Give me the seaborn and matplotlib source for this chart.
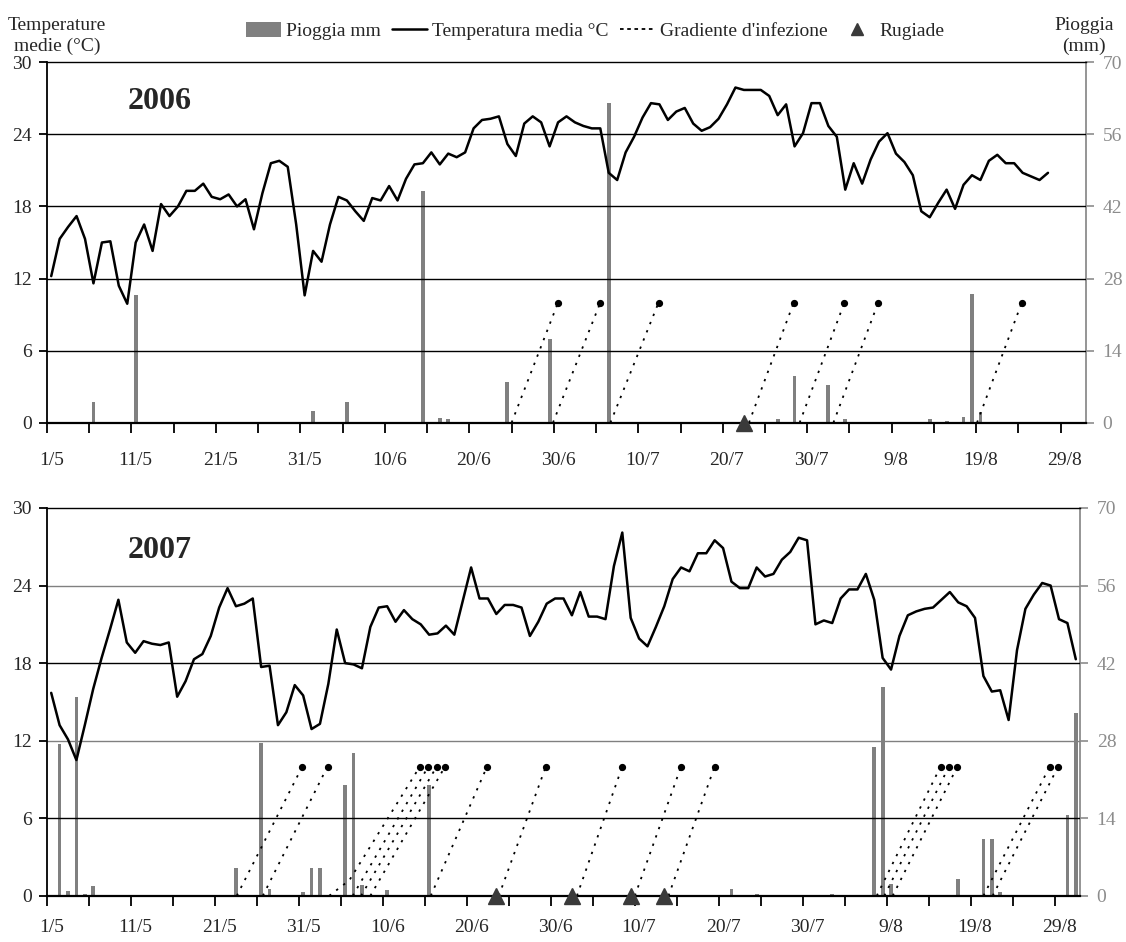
import numpy as np
import pandas as pd
import matplotlib
matplotlib.use('Agg')
import matplotlib.pyplot as plt
import seaborn as sns
from matplotlib.lines import Line2D
from matplotlib.patches import Patch

# day index 0 = 1 May, last day (122) = 31 Aug
n_days = 123
tick_days = list(range(0, 121, 10))
tick_labels = ['1/5', '11/5', '21/5', '31/5', '10/6', '20/6', '30/6',
               '10/7', '20/7', '30/7', '9/8', '19/8', '29/8']

# 2006 - mean temperature (°C), 1/5 .. 27/8
temp_2006 = [12.2, 15.3, 16.3, 17.2, 15.3, 11.6, 15.0, 15.1, 11.4, 9.9,
             15.0, 16.5, 14.3, 18.2, 17.2, 18.0, 19.3, 19.3, 19.9, 18.8,
             18.6, 19.0, 18.0, 18.6, 16.1, 19.1, 21.6, 21.8, 21.3, 16.5,
             10.6, 14.3, 13.4, 16.5, 18.8, 18.5, 17.6, 16.8, 18.7, 18.5,
             19.7, 18.5, 20.3, 21.5, 21.6, 22.5, 21.5, 22.4, 22.1, 22.5,
             24.5, 25.2, 25.3, 25.5, 23.2, 22.2, 24.9, 25.5, 25.0, 23.0,
             25.0, 25.5, 25.0, 24.7, 24.5, 24.5, 20.8, 20.2, 22.5, 23.8,
             25.4, 26.6, 26.5, 25.2, 25.9, 26.2, 24.9, 24.3, 24.6, 25.3,
             26.5, 27.9, 27.7, 27.7, 27.7, 27.2, 25.6, 26.5, 23.0, 24.1,
             26.6, 26.6, 24.7, 23.8, 19.4, 21.6, 19.9, 21.9, 23.4, 24.1,
             22.4, 21.7, 20.6, 17.6, 17.1, 18.3, 19.4, 17.8, 19.8, 20.6,
             20.2, 21.8, 22.3, 21.6, 21.6, 20.8, 20.5, 20.2, 20.8]

# 2006 - rain (day index, mm)
rain_2006_day = [5, 10, 31, 35, 44, 46, 47, 54, 59, 66, 86, 88, 92, 94, 104, 106, 108, 109, 110]
rain_2006_mm = [4.0, 24.9, 2.2, 4.0, 45.0, 1.0, 0.8, 8.0, 16.2, 62.1, 0.8, 9.0, 7.3, 0.8, 0.8, 0.3, 1.2, 25.0, 2.1]

# 2006 - dew days
dew_2006 = [82]

# 2006 - infection gradient lines (day, value) points
grad_2006 = [[(54.5, 0), (60.0, 10)], [(59.4, 0), (65.0, 10)], [(66.2, 0), (71.9, 10)],
             [(82.6, 0), (87.9, 10)], [(88.6, 0), (93.9, 10)], [(92.6, 0), (97.9, 10)],
             [(109.6, 0), (114.9, 10)]]

# 2007 - mean temperature (°C), 1/5 .. 31/8
temp_2007 = [15.7, 13.2, 12.1, 10.5, 13.2, 16.0, 18.4, 20.6, 22.9, 19.6,
             18.8, 19.7, 19.5, 19.4, 19.6, 15.4, 16.6, 18.3, 18.7, 20.1,
             22.3, 23.8, 22.4, 22.6, 23.0, 17.7, 17.8, 13.2, 14.2, 16.3,
             15.5, 12.9, 13.3, 16.4, 20.6, 18.0, 17.9, 17.6, 20.8, 22.3,
             22.4, 21.2, 22.1, 21.4, 21.0, 20.2, 20.3, 20.9, 20.2, 22.8,
             25.4, 23.0, 23.0, 21.8, 22.5, 22.5, 22.3, 20.1, 21.2, 22.6,
             23.0, 23.0, 21.7, 23.5, 21.6, 21.6, 21.4, 25.5, 28.1, 21.5,
             19.9, 19.3, 20.8, 22.4, 24.5, 25.4, 25.1, 26.5, 26.5, 27.5,
             26.9, 24.3, 23.8, 23.8, 25.4, 24.7, 24.9, 26.0, 26.6, 27.7,
             27.5, 21.0, 21.3, 21.1, 23.0, 23.7, 23.7, 24.9, 22.9, 18.4,
             17.5, 20.1, 21.7, 22.0, 22.2, 22.3, 22.9, 23.5, 22.7, 22.4,
             21.5, 17.0, 15.8, 15.9, 13.6, 19.0, 22.2, 23.3, 24.2, 24.0,
             21.4, 21.1, 18.3]

rain_2007_day = [1, 2, 3, 4, 5, 22, 25, 26, 30, 31, 32, 35, 36, 37, 40, 45,
                 81, 84, 93, 98, 99, 100, 108, 111, 112, 113, 121, 122]
rain_2007_mm = [27.4, 0.9, 35.9, 0.3, 1.7, 5.1, 27.6, 1.2, 0.7, 5.1, 5.1, 20.0, 25.8, 1.9, 1.0, 20.0,
                1.3, 0.3, 0.3, 26.8, 37.6, 2.1, 3.0, 10.2, 10.2, 0.7, 14.6, 33.0]

dew_2007 = [53, 62, 69, 73]

grad_2007 = [[(22.1, 0), (29.9, 10)], [(25.2, 0), (32.9, 10)],
             [(33.1, 0), (35.5, 1.2), (43.9, 10)], [(35.9, 0), (44.9, 10)],
             [(36.9, 0), (45.9, 10)], [(38.0, 0), (46.9, 10)],
             [(45.2, 0), (51.9, 10)], [(53.3, 0), (58.9, 10)],
             [(62.6, 0), (68.0, 10)], [(69.5, 0), (75.0, 10)], [(73.5, 0), (79.0, 10)],
             [(98.3, 0), (105.9, 10)], [(99.2, 0), (106.9, 10)], [(100.2, 0), (107.9, 10)],
             [(111.0, 0), (118.9, 10)], [(112.1, 0), (119.9, 10)]]

sns.set_theme(style='white')
plt.rcParams['font.family'] = ['Liberation Serif', 'DejaVu Serif']
plt.rcParams['font.size'] = 14

W, H = 1126, 942
fig = plt.figure(figsize=(W / 100, H / 100), dpi=100)

RAIN_COLOR = '#808080'
AX2_COLOR = '#8c8c8c'
DOT_STYLE = (0, (1.3, 3.6))
FS = 14


def draw_panel(rect, temp, rain_day, rain_mm, dew, grads, year, grid_colors, xpad):
    ax = fig.add_axes(rect)
    ax2 = ax.twinx()
    ax.set_zorder(ax2.get_zorder() + 1)
    ax.patch.set_visible(False)

    # rain on the right axis
    ax2.bar(rain_day, rain_mm, width=0.45, color=RAIN_COLOR, linewidth=0)
    ax2.set_ylim(0, 70)
    ax2.set_yticks(range(0, 71, 14))
    ax2.tick_params(axis='y', colors=AX2_COLOR, length=6, width=1.2, pad=6,
                    labelsize=FS, direction='out', right=True)
    for s in ['left', 'top', 'bottom']:
        ax2.spines[s].set_visible(False)
    ax2.spines['right'].set_color(AX2_COLOR)
    ax2.spines['right'].set_linewidth(1.3)

    # gridlines
    for v, c in zip([6, 12, 18, 24], grid_colors):
        ax.axhline(v, color=c, lw=1.0, zorder=0.5)

    days = np.arange(len(temp))
    sns.lineplot(x=days, y=temp, ax=ax, color='black', lw=1.8, estimator=None,
                 legend=False, zorder=4)

    for g in grads:
        gx = [p[0] for p in g]
        gy = [p[1] for p in g]
        ax.plot(gx, gy, color='black', lw=1.3, linestyle=DOT_STYLE, zorder=3)
        ax.plot(gx[-1], gy[-1], 'o', color='black', markersize=4.2, zorder=3)

    ax.plot(dew, [0] * len(dew), '^', color='#3a3a3a', markersize=11,
            clip_on=False, zorder=5, linestyle='none')

    ax.set_xlim(-0.5, n_days - 0.5)
    ax.set_ylim(0, 30)
    ax.set_yticks(range(0, 31, 6))
    ax.set_xticks(tick_days)
    ax.set_xticklabels(tick_labels)
    ax.set_xticks(np.arange(-0.5, n_days, 5), minor=True)
    ax.tick_params(axis='x', which='major', length=0, pad=xpad, labelsize=FS)
    ax.tick_params(axis='x', which='minor', length=7, width=1.3, color='black',
                   direction='out', bottom=True)
    ax.tick_params(axis='y', length=6, width=1.3, color='black', direction='out',
                   pad=5, labelsize=FS, left=True)
    ax.set_xlabel('')
    ax.set_ylabel('')

    ax.spines['right'].set_visible(False)
    ax.spines['left'].set_color('black')
    ax.spines['left'].set_linewidth(1.3)
    ax.spines['bottom'].set_color('black')
    ax.spines['bottom'].set_linewidth(1.6)
    ax.spines['top'].set_color('black')
    ax.spines['top'].set_linewidth(1.0)

    ax.text(0.078, 0.89, year, transform=ax.transAxes, fontsize=23,
            fontweight='bold', va='center', ha='left')
    return ax


draw_panel([47 / W, 1 - 422.7 / H, 1039 / W, 360.4 / H], temp_2006,
           rain_2006_day, rain_2006_mm, dew_2006, grad_2006, '2006',
           ['black', 'black', 'black', 'black'], 21)
draw_panel([47 / W, 1 - 895.8 / H, 1033 / W, 387.8 / H], temp_2007,
           rain_2007_day, rain_2007_mm, dew_2007, grad_2007, '2007',
           ['black', '#808080', 'black', '#808080'], 17)

fig.text(57 / W, 1 - 36 / H, 'Temperature\nmedie (°C)', ha='center', va='center',
         fontsize=FS, linespacing=1.3)
fig.text(1084 / W, 1 - 36 / H, 'Pioggia\n(mm)', ha='center', va='center',
         fontsize=FS, linespacing=1.3)

handles = [Patch(facecolor=RAIN_COLOR, edgecolor='none'),
           Line2D([], [], color='black', lw=1.8),
           Line2D([], [], color='black', lw=1.3, linestyle=(0, (2, 2))),
           Line2D([], [], color='#3a3a3a', marker='^', markersize=8, linestyle='none')]
labels = ['Pioggia mm', 'Temperatura media °C', "Gradiente d'infezione", 'Rugiade']
fig.legend(handles, labels, loc='center', bbox_to_anchor=(595 / W, 1 - 31 / H),
           ncol=4, frameon=False, fontsize=FS, handlelength=1.8,
           handletextpad=0.25, columnspacing=0.6, handleheight=0.8)

fig.savefig('out.png', dpi=100)
